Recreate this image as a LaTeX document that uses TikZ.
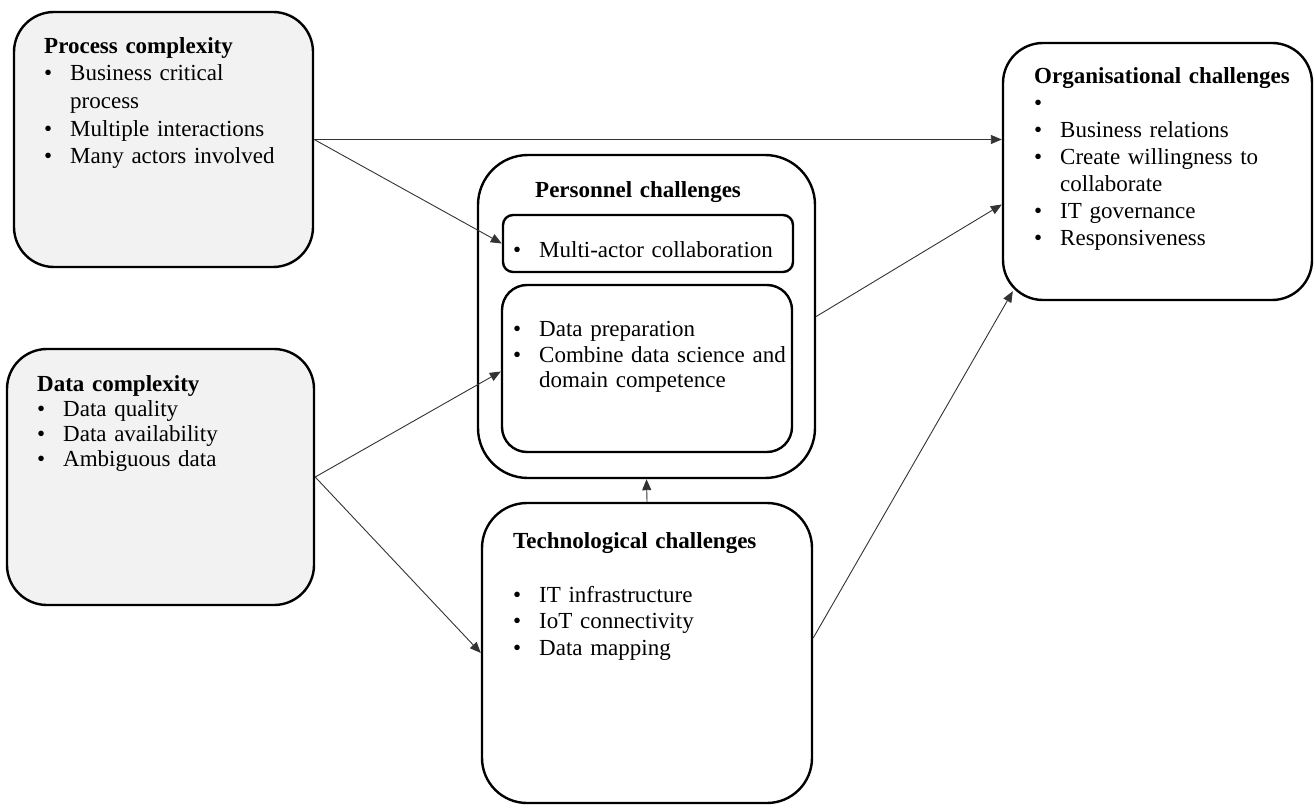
\documentclass[tikz,border=0pt]{standalone}
\usepackage{fontspec}
\setmainfont{Liberation Serif}
\usetikzlibrary{arrows.meta}

% bullet lines with hanging indent
\newcommand{\bitem}[1]{\strut\makebox[26pt][l]{\textbullet}#1}
\newcommand{\bcont}[1]{\strut\hspace*{26pt}#1}
\newcommand{\btitle}[1]{\strut\textbf{#1}}

\begin{document}
\begin{tikzpicture}[x=1pt,y=-1pt,
  box/.style={draw, line width=2.4pt, rectangle, inner sep=0pt},
  shaded/.style={box, fill=black!5},
  txt/.style={anchor=north west, inner sep=0pt, text width=290pt, align=left,
    font=\fontsize{23}{27}\selectfont},
  link/.style={draw=black!80, line width=0.9pt,
    -{Triangle[length=11pt,width=9pt]}}
]
\useasboundingbox (0,0) rectangle (1314,805);

% boxes
\node[shaded, rounded corners=40pt, minimum width=299pt, minimum height=255pt] (proc) at (163.5,139.5) {};
\node[shaded, rounded corners=40pt, minimum width=307pt, minimum height=256pt] (data) at (160.5,477) {};
\node[box, rounded corners=50pt, minimum width=337pt, minimum height=323pt] (pers) at (646.5,316.5) {};
\node[box, rounded corners=10pt, minimum width=290pt, minimum height=57pt] (multi) at (648,243.5) {};
\node[box, rounded corners=25pt, minimum width=290pt, minimum height=167pt] (prep) at (647,368.5) {};
\node[box, rounded corners=45pt, minimum width=330pt, minimum height=300pt] (tech) at (647,653) {};
\node[box, rounded corners=40pt, minimum width=309pt, minimum height=257pt] (org) at (1157.5,171.5) {};

% texts
\node[txt, font=\fontsize{23}{27.7}\selectfont] (proctext) at (44,33.5) {%
  \btitle{Process complexity}\\
  \bitem{Business critical}\\
  \bcont{process}\\
  \bitem{Multiple interactions}\\
  \bitem{Many actors involved}};
\node[txt, font=\fontsize{23}{25}\selectfont] (datatext) at (37,373.5) {%
  \btitle{Data complexity}\\
  \bitem{Data quality}\\
  \bitem{Data availability}\\
  \bitem{Ambiguous data}};
\node[txt] (perstext) at (535,178.5) {\btitle{Personnel challenges}};
\node[txt] (multitext) at (513,238.5) {\bitem{Multi-actor collaboration}};
\node[txt, font=\fontsize{23}{25.5}\selectfont] (preptext) at (513,318.5) {%
  \bitem{Data preparation}\\
  \bitem{Combine data science and}\\
  \bcont{domain competence}};
\node[txt, font=\fontsize{23}{26.8}\selectfont] (techtext) at (513,529.5) {%
  \btitle{Technological challenges}\\
  \strut\\
  \bitem{IT infrastructure}\\
  \bitem{IoT connectivity}\\
  \bitem{Data mapping}};
\node[txt] (orgtext) at (1034,64.5) {%
  \btitle{Organisational challenges}\\
  \bitem{}\\
  \bitem{Business relations}\\
  \bitem{Create willingness to}\\
  \bcont{collaborate}\\
  \bitem{IT governance}\\
  \bitem{Responsiveness}};

% connectors
\draw[link] (proc.east) -- (org.west |- proc.east);
\draw[link] (proc.east) -- (multi.west);
\draw[link] (data.east) -- ([yshift=-3pt]prep.west);
\draw[link] (data.east) -- (tech.west);
\draw[link] (tech.north) -- (pers.south);
\draw[link] (pers.east) -- ([yshift=-33pt]org.west);
\draw[link] ([yshift=15pt]tech.east) -- ([xshift=11pt,yshift=10pt]org.south west);
\end{tikzpicture}
\end{document}
